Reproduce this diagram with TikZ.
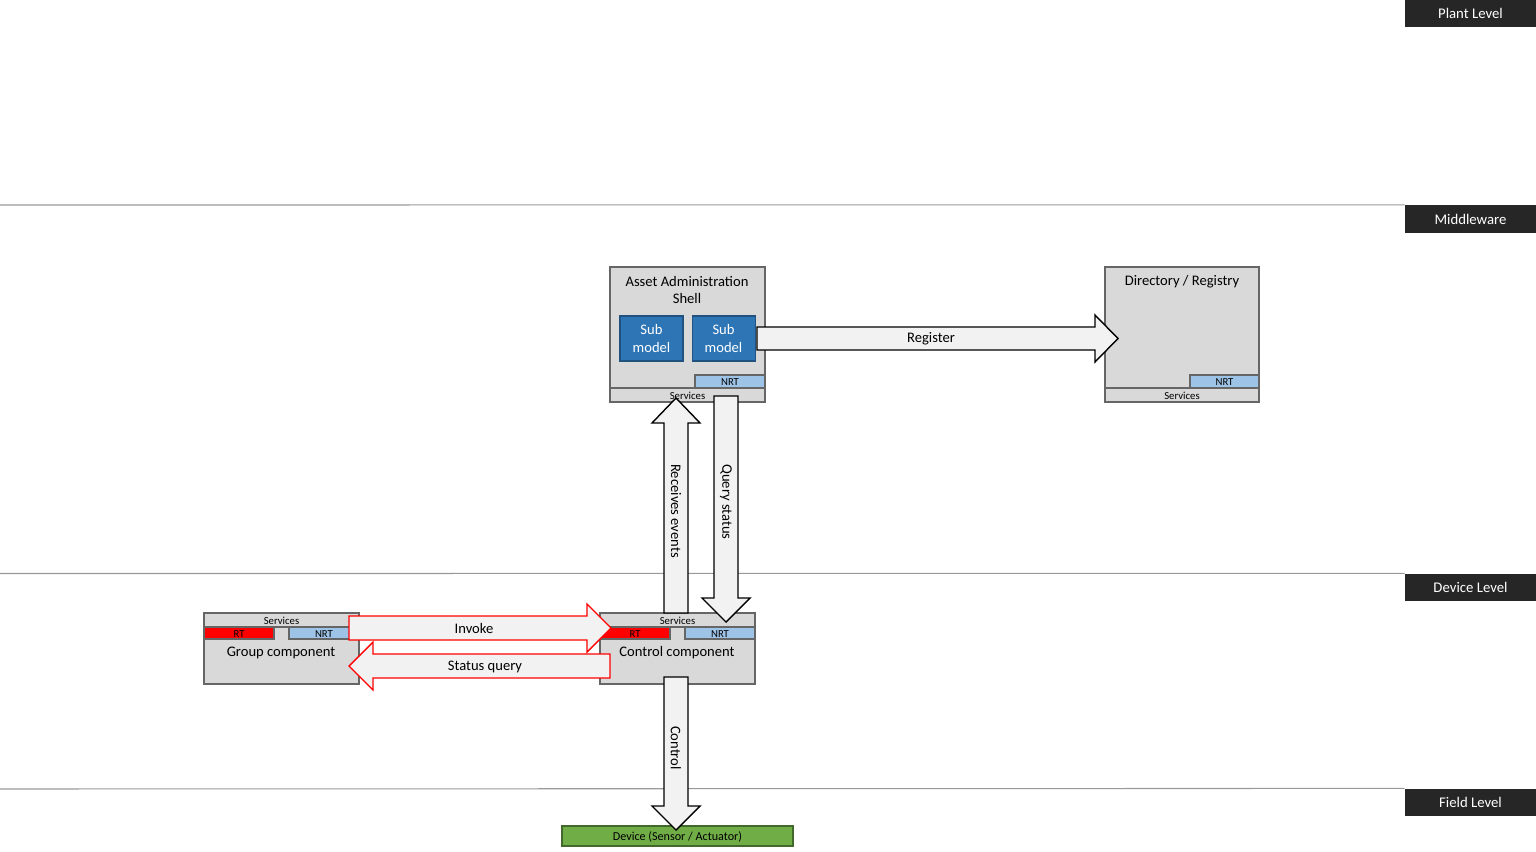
\documentclass[tikz,border=0pt]{standalone}
\usepackage{fontspec}
\setmainfont{Carlito}
\usepackage{xcolor}
\usetikzlibrary{positioning, calc}

\definecolor{boxgray}{HTML}{D9D9D9}
\definecolor{arrowgray}{HTML}{F2F2F2}
\definecolor{nrtblue}{HTML}{9DC3E6}
\definecolor{subblue}{HTML}{2E75B6}
\definecolor{devgreen}{HTML}{70AD47}
\definecolor{levelblack}{HTML}{262626}
\definecolor{rtred}{HTML}{FF0000}

\tikzset{
	box/.style={draw=black!60, fill=boxgray, line width=0.6pt},
	nrtbox/.style={draw=black!60, fill=nrtblue, line width=0.6pt},
	rtbox/.style={draw=black!60, fill=rtred, line width=0.6pt},
	blockarrow/.style={draw=black, fill=arrowgray, line width=0.8pt, line join=miter},
	redarrow/.style={blockarrow, draw=rtred},
	level/.style={fill=levelblack, text=white, inner sep=0pt, minimum width=2.62cm, minimum height=0.55cm, font=\fontsize{8.4}{10}\selectfont},
	levelline/.style={draw=black!40, line width=0.6pt},
	lbl/.style={font=\fontsize{8.3}{10.2}\selectfont, inner sep=0pt, align=center},
	small/.style={font=\fontsize{6.1}{7}\selectfont, inner sep=0pt},
	submodel/.style={draw=subblue!70!black, fill=subblue, text=white, line width=0.6pt, minimum width=1.26cm, minimum height=0.9cm, inner sep=0pt, align=center, font=\fontsize{8.3}{10.2}\selectfont},
}

\begin{document}
\begin{tikzpicture}[x=0.02cm, y=-0.02cm]
	\useasboundingbox (0,0) rectangle (1536,852);

	% levels
	\node [level] (plant) at (1470.5,13.5) {Plant Level};
	\node [level] (middle) at (1470.5,219) {Middleware};
	\node [level] (device) at (1470.5,587.5) {Device Level};
	\node [level] (field) at (1470.5,802.5) {Field Level};
	\draw [levelline] (0,205) -- (middle.north west);
	\draw [levelline] (0,573.5) -- (device.north west);
	\draw [levelline] (0,789) -- (field.north west);

	% asset administration shell
	\draw [box] (610,267) rectangle (765,402);
	\draw [box] (610,388) rectangle (765,402);
	\draw [nrtbox] (695,375) rectangle (765,388);
	\node [lbl] (aas) at (687,290) {Asset Administration\\Shell};
	\node [submodel] (sub1) at (651.5,338.5) {Sub\\model};
	\node [submodel, right=0.16cm of sub1] (sub2) {Sub\\model};
	\node [small] (aasnrt) at (730,382) {NRT};
	\node [small] (aassrv) at (687.5,395.5) {Services};

	% directory
	\draw [box] (1105,267) rectangle (1259,402);
	\draw [box] (1105,388) rectangle (1259,402);
	\draw [nrtbox] (1190,375) rectangle (1259,388);
	\node [lbl] (dir) at (1182,281.5) {Directory / Registry};
	\node [small] (dirnrt) at (1224.5,382) {NRT};
	\node [small] (dirsrv) at (1182,395.5) {Services};

	% group component
\def\xoff{204}
	\draw [box] (\xoff,613) rectangle ++(155,71);
	\draw [box] (\xoff,613) rectangle ++(155,14);
	\draw [rtbox] (\xoff,627) rectangle ++(70,12);
	\draw [nrtbox] (\xoff+85,627) rectangle ++(70,12);
	\node [small] (grpsrv) at (\xoff+77.5,620.5) {Services};
	\node [small] (grprt) at (\xoff+35,634) {RT};
	\node [small] (grpnrt) at (\xoff+120,634) {NRT};
	\node [lbl] (grp) at (\xoff+77,652.5) {Group component};

	% control component
\def\xoff{600}
	\draw [box] (\xoff,613) rectangle ++(155,71);
	\draw [box] (\xoff,613) rectangle ++(155,14);
	\draw [rtbox] (\xoff,627) rectangle ++(70,12);
	\draw [nrtbox] (\xoff+85,627) rectangle ++(70,12);
	\node [small] (ctlsrv) at (\xoff+77.5,620.5) {Services};
	\node [small] (ctlrt) at (\xoff+35,634) {RT};
	\node [small] (ctlnrt) at (\xoff+120,634) {NRT};
	\node [lbl] (ctl) at (\xoff+77,652.5) {Control component};

	% device
	\draw [draw=devgreen!60!black, fill=devgreen, line width=0.6pt] (562,826) rectangle (793,846);
	\node [small, font=\fontsize{6.9}{8}\selectfont] (dev) at (677.5,836.5) {Device (Sensor / Actuator)};

	% arrows
	\draw [blockarrow] (757,327) -- (1095,327) -- (1095,315) -- (1118,338.5) -- (1095,362) -- (1095,350) -- (757,350) -- cycle;
	\node [lbl] (reg) at (931,339) {Register};

	\draw [blockarrow] (664,613) -- (664,423) -- (652,423) -- (676,398) -- (700,423) -- (688,423) -- (688,613) -- cycle;
	\node [lbl, rotate=-90] (recv) at (676,511) {Receives events};

	\draw [blockarrow] (714,396) -- (714,598) -- (702,598) -- (726,622) -- (750,598) -- (738,598) -- (738,396) -- cycle;
	\node [lbl, rotate=-90] (query) at (726,502) {Query status};

	\draw [redarrow] (349,616) -- (587,616) -- (587,604) -- (611,628) -- (587,652) -- (587,640) -- (349,640) -- cycle;
	\node [lbl] (inv) at (474,628.5) {Invoke};

	\draw [redarrow] (610,654) -- (373,654) -- (373,642) -- (349,666) -- (373,690) -- (373,678) -- (610,678) -- cycle;
	\node [lbl] (stq) at (485,666.5) {Status query};

	\draw [blockarrow] (664,677) -- (664,806) -- (652,806) -- (676,830) -- (700,806) -- (688,806) -- (688,677) -- cycle;
	\node [lbl, rotate=-90] (ctrl) at (676,748) {Control};
\end{tikzpicture}
\end{document}
